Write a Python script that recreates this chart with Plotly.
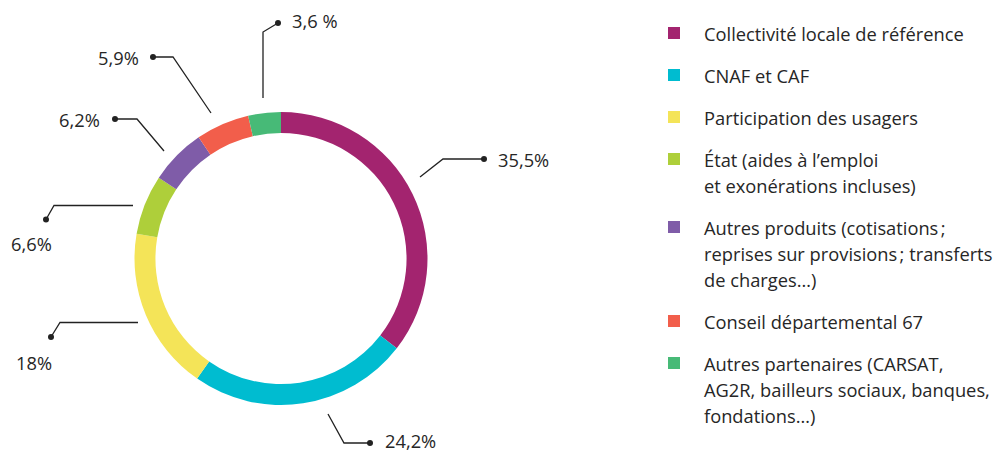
import plotly.graph_objects as go

# ---- data ----
categories = [
    "Collectivité locale de référence",
    "CNAF et CAF",
    "Participation des usagers",
    "État (aides à l’emploi<br>et exonérations incluses)",
    "Autres produits (cotisations\u202f;<br>reprises sur provisions\u202f; transferts<br>de charges…)",
    "Conseil départemental 67",
    "Autres partenaires (CARSAT,<br>AG2R, bailleurs sociaux, banques,<br>fondations…)",
]
values = [35.5, 24.2, 18.0, 6.6, 6.2, 5.9, 3.6]
value_labels = ["35,5%", "24,2%", "18%", "6,6%", "6,2%", "5,9%", "3,6 %"]
colors = ["#A3246F", "#00BCD0", "#F4E458", "#AECF3A", "#7F5CA8", "#F25E4B", "#47BA77"]

# ---- layout / style ----
W, H = 995, 453
FONT = "Open Sans"
TXT = "#262626"
FS = 18.3
cx, cy, R = 281, 258.5, 146.5

# leader lines in pixel space: start, elbow, dot ; label position and anchor
leaders = [
    dict(pts=[(420, 177), (443, 159), (484, 159)], lab=(497, 159), anchor="left"),
    dict(pts=[(328, 414), (344, 443), (370, 443)], lab=(384, 440.5), anchor="left"),
    dict(pts=[(138, 322.5), (60, 322.5), (51, 337)], lab=(53, 362), anchor="right"),
    dict(pts=[(133, 205.5), (54, 205.5), (46, 219.5)], lab=(53, 243), anchor="right"),
    dict(pts=[(164, 151), (137, 119), (115, 119)], lab=(101, 119), anchor="right"),
    dict(pts=[(211, 113), (173, 57), (153, 57)], lab=(140, 57), anchor="right"),
    dict(pts=[(263, 98), (263, 32), (278, 23)], lab=(291, 20), anchor="left"),
]

legend_x_sq, legend_x_txt = 674, 703
legend_row_start, legend_line_h, legend_gap = 33, 26, 42

fig = go.Figure()

fig.add_trace(go.Pie(
    labels=[c.replace("<br>", " ") for c in categories],
    values=values,
    sort=False,
    direction="clockwise",
    rotation=0,
    hole=0.857,
    marker=dict(colors=colors, line=dict(width=0)),
    textinfo="none",
    hoverinfo="label+value",
    showlegend=False,
    domain=dict(x=[(cx - R) / W, (cx + R) / W], y=[(H - cy - R) / H, (H - cy + R) / H]),
))

annotations = []
for ld, lab in zip(leaders, value_labels):
    xs = [p[0] for p in ld["pts"]]
    ys = [p[1] for p in ld["pts"]]
    fig.add_trace(go.Scatter(x=xs, y=ys, mode="lines", line=dict(color="#222", width=1.3),
                             hoverinfo="skip", showlegend=False))
    fig.add_trace(go.Scatter(x=[xs[-1]], y=[ys[-1]], mode="markers",
                             marker=dict(color="#222", size=6), hoverinfo="skip", showlegend=False))
    annotations.append(dict(x=ld["lab"][0], y=ld["lab"][1], xref="x", yref="y", text=lab,
                            showarrow=False, xanchor=ld["anchor"], yanchor="middle", borderpad=0,
                            font=dict(family=FONT, size=FS, color=TXT)))

# custom legend
y = legend_row_start
sq_x, sq_y = [], []
for cat, col in zip(categories, colors):
    lines = cat.split("<br>")
    sq_x.append(legend_x_sq)
    sq_y.append(y)
    for i, ln in enumerate(lines):
        annotations.append(dict(x=legend_x_txt, y=y + i * legend_line_h, xref="x", yref="y",
                                text=ln, showarrow=False, xanchor="left", yanchor="middle",
                                borderpad=0, font=dict(family=FONT, size=FS, color=TXT)))
    y += (len(lines) - 1) * legend_line_h + legend_gap

fig.add_trace(go.Scatter(x=sq_x, y=sq_y, mode="markers",
                         marker=dict(symbol="square", size=12, color=colors),
                         hoverinfo="skip", showlegend=False))

fig.update_layout(
    width=W, height=H,
    margin=dict(l=0, r=0, t=0, b=0),
    paper_bgcolor="white", plot_bgcolor="rgba(0,0,0,0)",
    xaxis=dict(range=[0, W], visible=False, fixedrange=True),
    yaxis=dict(range=[H, 0], visible=False, fixedrange=True),
    annotations=annotations,
    showlegend=False,
)

fig.write_html("out.html")
